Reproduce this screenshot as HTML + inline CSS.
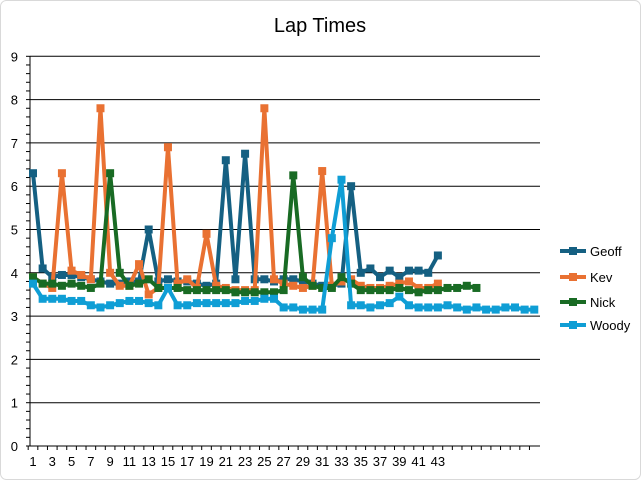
<!DOCTYPE html>
<html><head><meta charset="utf-8"><style>
html,body{margin:0;padding:0;background:#fff;}
svg{display:block;font-family:"Liberation Sans",sans-serif;}
</style></head><body>
<svg id="chart" width="641" height="480" viewBox="0 0 641 480">
<rect x="0.5" y="0.5" width="640" height="479" rx="6" fill="#fff" stroke="#d9d9d9"/>
<text x="320" y="32" text-anchor="middle" font-size="20" fill="#000">Lap Times</text>
<g id="grid"></g><g id="axes"></g><g id="series"></g><g id="legend"></g>
</svg>
<script>
const geoff=[6.3,4.1,3.9,3.95,3.95,3.9,3.85,3.8,3.75,3.75,3.8,3.8,5.0,3.8,3.85,3.8,3.8,3.75,3.7,3.75,6.6,3.85,6.75,3.85,3.85,3.8,3.85,3.85,3.8,3.75,3.7,3.7,3.75,6.0,4.0,4.1,3.9,4.05,3.9,4.05,4.05,4.0,4.4];
const kev=[3.9,3.75,3.65,6.3,4.05,3.95,3.85,7.8,4.0,3.7,3.7,4.2,3.5,3.65,6.9,3.75,3.85,3.65,4.9,3.7,3.65,3.6,3.6,3.6,7.8,3.85,3.75,3.7,3.65,3.7,6.35,3.7,3.8,3.85,3.7,3.65,3.65,3.7,3.75,3.8,3.65,3.65,3.75];
const nick=[3.9,3.75,3.75,3.7,3.75,3.7,3.65,3.75,6.3,4.0,3.7,3.75,3.85,3.65,3.65,3.65,3.6,3.6,3.6,3.6,3.6,3.55,3.55,3.55,3.55,3.55,3.6,6.25,3.9,3.7,3.65,3.65,3.9,3.75,3.6,3.6,3.6,3.6,3.65,3.6,3.55,3.6,3.6,3.65,3.65,3.7,3.65];
const woody=[3.75,3.4,3.4,3.4,3.35,3.35,3.25,3.2,3.25,3.3,3.35,3.35,3.3,3.25,3.65,3.25,3.25,3.3,3.3,3.3,3.3,3.3,3.35,3.35,3.4,3.4,3.2,3.2,3.15,3.15,3.15,4.8,6.15,3.25,3.25,3.2,3.25,3.3,3.45,3.25,3.2,3.2,3.2,3.25,3.2,3.15,3.2,3.15,3.15,3.2,3.2,3.15,3.15];
const seriesNames=["Geoff","Kev","Nick","Woody"];
const yTicks=[0,1,2,3,4,5,6,7,8,9];
const xTickLabels=[1,3,5,7,9,11,13,15,17,19,21,23,25,27,29,31,33,35,37,39,41,43];
const colors=["#156082","#E97132","#196B24","#0F9ED5"];
const NS="http://www.w3.org/2000/svg";
const X0=33,DX=9.64,Y0=446,DY=43.3,XL=30,XR=540;
const xs=i=>X0+(i-1)*DX, ys=v=>Y0-v*DY;
function mk(tag,attrs,parent){const e=document.createElementNS(NS,tag);for(const k in attrs)e.setAttribute(k,attrs[k]);parent.appendChild(e);return e;}
const grid=document.getElementById('grid'),axes=document.getElementById('axes'),ser=document.getElementById('series'),leg=document.getElementById('legend');
yTicks.forEach(t=>{
  if(t>0){const l=mk('line',{x1:XL,x2:XR,y1:ys(t),y2:ys(t),stroke:'#000','stroke-width':1},grid);
  
  }
  const tx=mk('text',{x:XL-12,y:ys(t)+5,'text-anchor':'end','font-size':13,fill:'#000'},axes);
  tx.textContent=t;
  
  
});
for(let v=0;v<=9.001;v+=0.2){mk('line',{x1:XL-4,x2:XL,y1:ys(v),y2:ys(v),stroke:'#000','stroke-width':1},axes);}
const ya=mk('line',{x1:XL,x2:XL,y1:ys(9),y2:Y0,stroke:'#000','stroke-width':1},axes);


const xa=mk('line',{x1:XL,x2:XR,y1:Y0,y2:Y0,stroke:'#000','stroke-width':1},axes);


for(let i=1;i<=53;i++){mk('line',{x1:xs(i)-DX/2,x2:xs(i)-DX/2,y1:Y0,y2:Y0+4,stroke:'#000','stroke-width':1},axes);}
xTickLabels.forEach(c=>{const t=mk('text',{x:xs(c),y:Y0+20,'text-anchor':'middle','font-size':13,fill:'#000'},axes);
  t.textContent=c;
  
  });
[geoff,kev,nick,woody].forEach((arr,si)=>{
  const g=mk('g',{},ser);
  
  
  const pts=arr.map((v,i)=>xs(i+1)+','+ys(v)).join(' ');
  mk('polyline',{points:pts,fill:'none',stroke:colors[si],'stroke-width':4,'stroke-linejoin':'round'},g);
  arr.forEach((v,i)=>{const r=mk('rect',{x:xs(i+1)-4,y:ys(v)-4,width:8,height:8,fill:colors[si]},g);
    
    });
});
const legY=[251,277,302,325];
seriesNames.forEach((n,i)=>{
  const g=mk('g',{},leg);
  
  
  mk('line',{x1:560,x2:586,y1:legY[i],y2:legY[i],stroke:colors[i],'stroke-width':4},g);
  mk('rect',{x:569,y:legY[i]-4,width:8,height:8,fill:colors[i]},g);
  const t=mk('text',{x:590,y:legY[i]+5,'font-size':13,fill:'#000'},g);t.textContent=n;
});
</script>
</body></html>
